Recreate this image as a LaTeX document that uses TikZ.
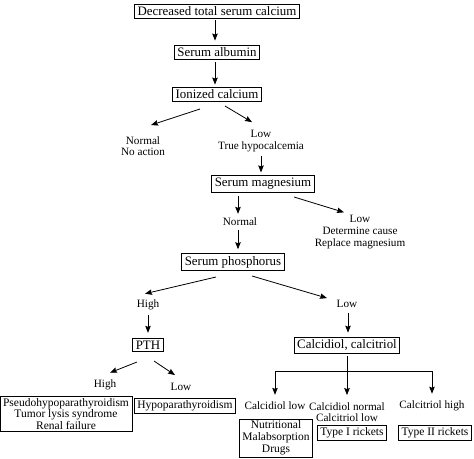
\documentclass[tikz,border=0pt]{standalone}
\usepackage{fontspec}
\setmainfont{Liberation Serif}
\usetikzlibrary{arrows.meta,calc}
\begin{document}
\begin{tikzpicture}[x=1pt,y=-1pt,
  box/.style={draw,line width=0.8pt,inner xsep=3pt,inner ysep=2.5pt,font=\fontsize{12.9}{13.4}\selectfont,align=center},
  sbox/.style={draw,line width=0.8pt,inner xsep=3pt,inner ysep=2pt,font=\fontsize{11.5}{11.8}\selectfont,align=center},
  lbl/.style={inner sep=0pt,font=\fontsize{11.2}{11.6}\selectfont,align=center},
  arr/.style={line width=0.8pt,-{Stealth[length=7pt,width=5.5pt,inset=1pt]}},
  ln/.style={line width=0.8pt}]
\useasboundingbox (0,0) rectangle (474,458);
\node[box] (n1) at (217,11) {Decreased total serum calcium};
\node[box] (n2) at (217,52) {Serum albumin};
\node[box] (n3) at (217,94) {Ionized calcium};
\node[lbl] (nn) at (143,146) {Normal\\No action};
\node[lbl] (nl) at (261,141) {Low\\True hypocalcemia};
\node[box] (n4) at (263,184) {Serum magnesium};
\node[lbl] (nnorm) at (240,222) {Normal};
\node[lbl] (nlow2) at (360,232) {Low\\Determine cause\\Replace magnesium};
\node[box] (n5) at (233,262) {Serum phosphorus};
\node[lbl] (nh) at (148,305) {High};
\node[lbl] (nlo) at (347,304) {Low};
\node[box] (pth) at (148,345) {PTH};
\node[box] (cc) at (347,345) {Calcidiol, calcitriol};
\node[lbl] (ph) at (105,385) {High};
\node[lbl] (pl) at (181,387) {Low};
\node[sbox] (pseudo) at (66,414) {Pseudohypoparathyroidism\\Tumor lysis syndrome\\Renal failure};
\node[sbox] (hypo) at (185,406) {Hypoparathyroidism};
\node[lbl] (cl) at (275,406) {Calcidiol low};
\node[lbl] (cn) at (347,412) {Calcidiol normal\\Calcitriol low};
\node[lbl] (ch) at (432,406) {Calcitriol high};
\node[sbox] (nut) at (276,438) {Nutritional\\Malabsorption\\Drugs};
\node[sbox] (t1) at (352,433) {Type I rickets};
\node[sbox] (t2) at (435,433) {Type II rickets};
% connectors
\draw[arr] ($(n1.south)+(-2,2)$) -- ($(n2.north)+(-2,-4)$);
\draw[arr] ($(n2.south)+(-2,3)$) -- ($(n3.north)+(-2,-2)$);
\draw[arr] ($(n3)+(-17,15)$) -- ($(nn.north)+(8,-11)$);
\draw[arr] ($(n3)+(8,12)$) -- ($(nl.north)+(-9,-8)$);
\draw[arr] ($(nl.south)+(0,4)$) -- ($(n4.north)+(-2,-3)$);
\draw[arr] ($(n4)+(-25,12)$) -- ($(nnorm.north)+(-2,-4)$);
\draw[arr] ($(n4)+(31,13)$) -- ($(nlow2.north)+(-16,-3)$);
\draw[arr] ($(nnorm.south)+(-2,4)$) -- ($(n5.north)+(5,-4)$);
\draw[arr] ($(n5)+(-17,15)$) -- ($(nh.north)+(-3,-6)$);
\draw[arr] ($(n5)+(19,14)$) -- ($(nlo.north)+(-20,-2)$);
\draw[arr] ($(nh.south)+(0,5)$) -- ($(pth.north)+(0,-5)$);
\draw[arr] ($(nlo.south)+(1,5)$) -- ($(cc.north)+(1,-4)$);
\draw[arr] ($(pth)+(-11,17)$) -- ($(ph.north)+(5,-7)$);
\draw[arr] ($(pth)+(6,16)$) -- ($(pl.north)+(-6,-8)$);
\coordinate (bar) at (347,371);
\draw[ln] ($(cc.south)+(0,3)$) -- (bar);
\draw[ln] (bar -| cl) -- (bar -| ch);
\draw[arr] (bar -| cl) -- ($(cl.north)+(0,-7)$);
\draw[arr] (bar) -- ($(cn.north)+(0,-7)$);
\draw[arr] (bar -| ch) -- ($(ch.north)+(0,-7)$);
\end{tikzpicture}
\end{document}
